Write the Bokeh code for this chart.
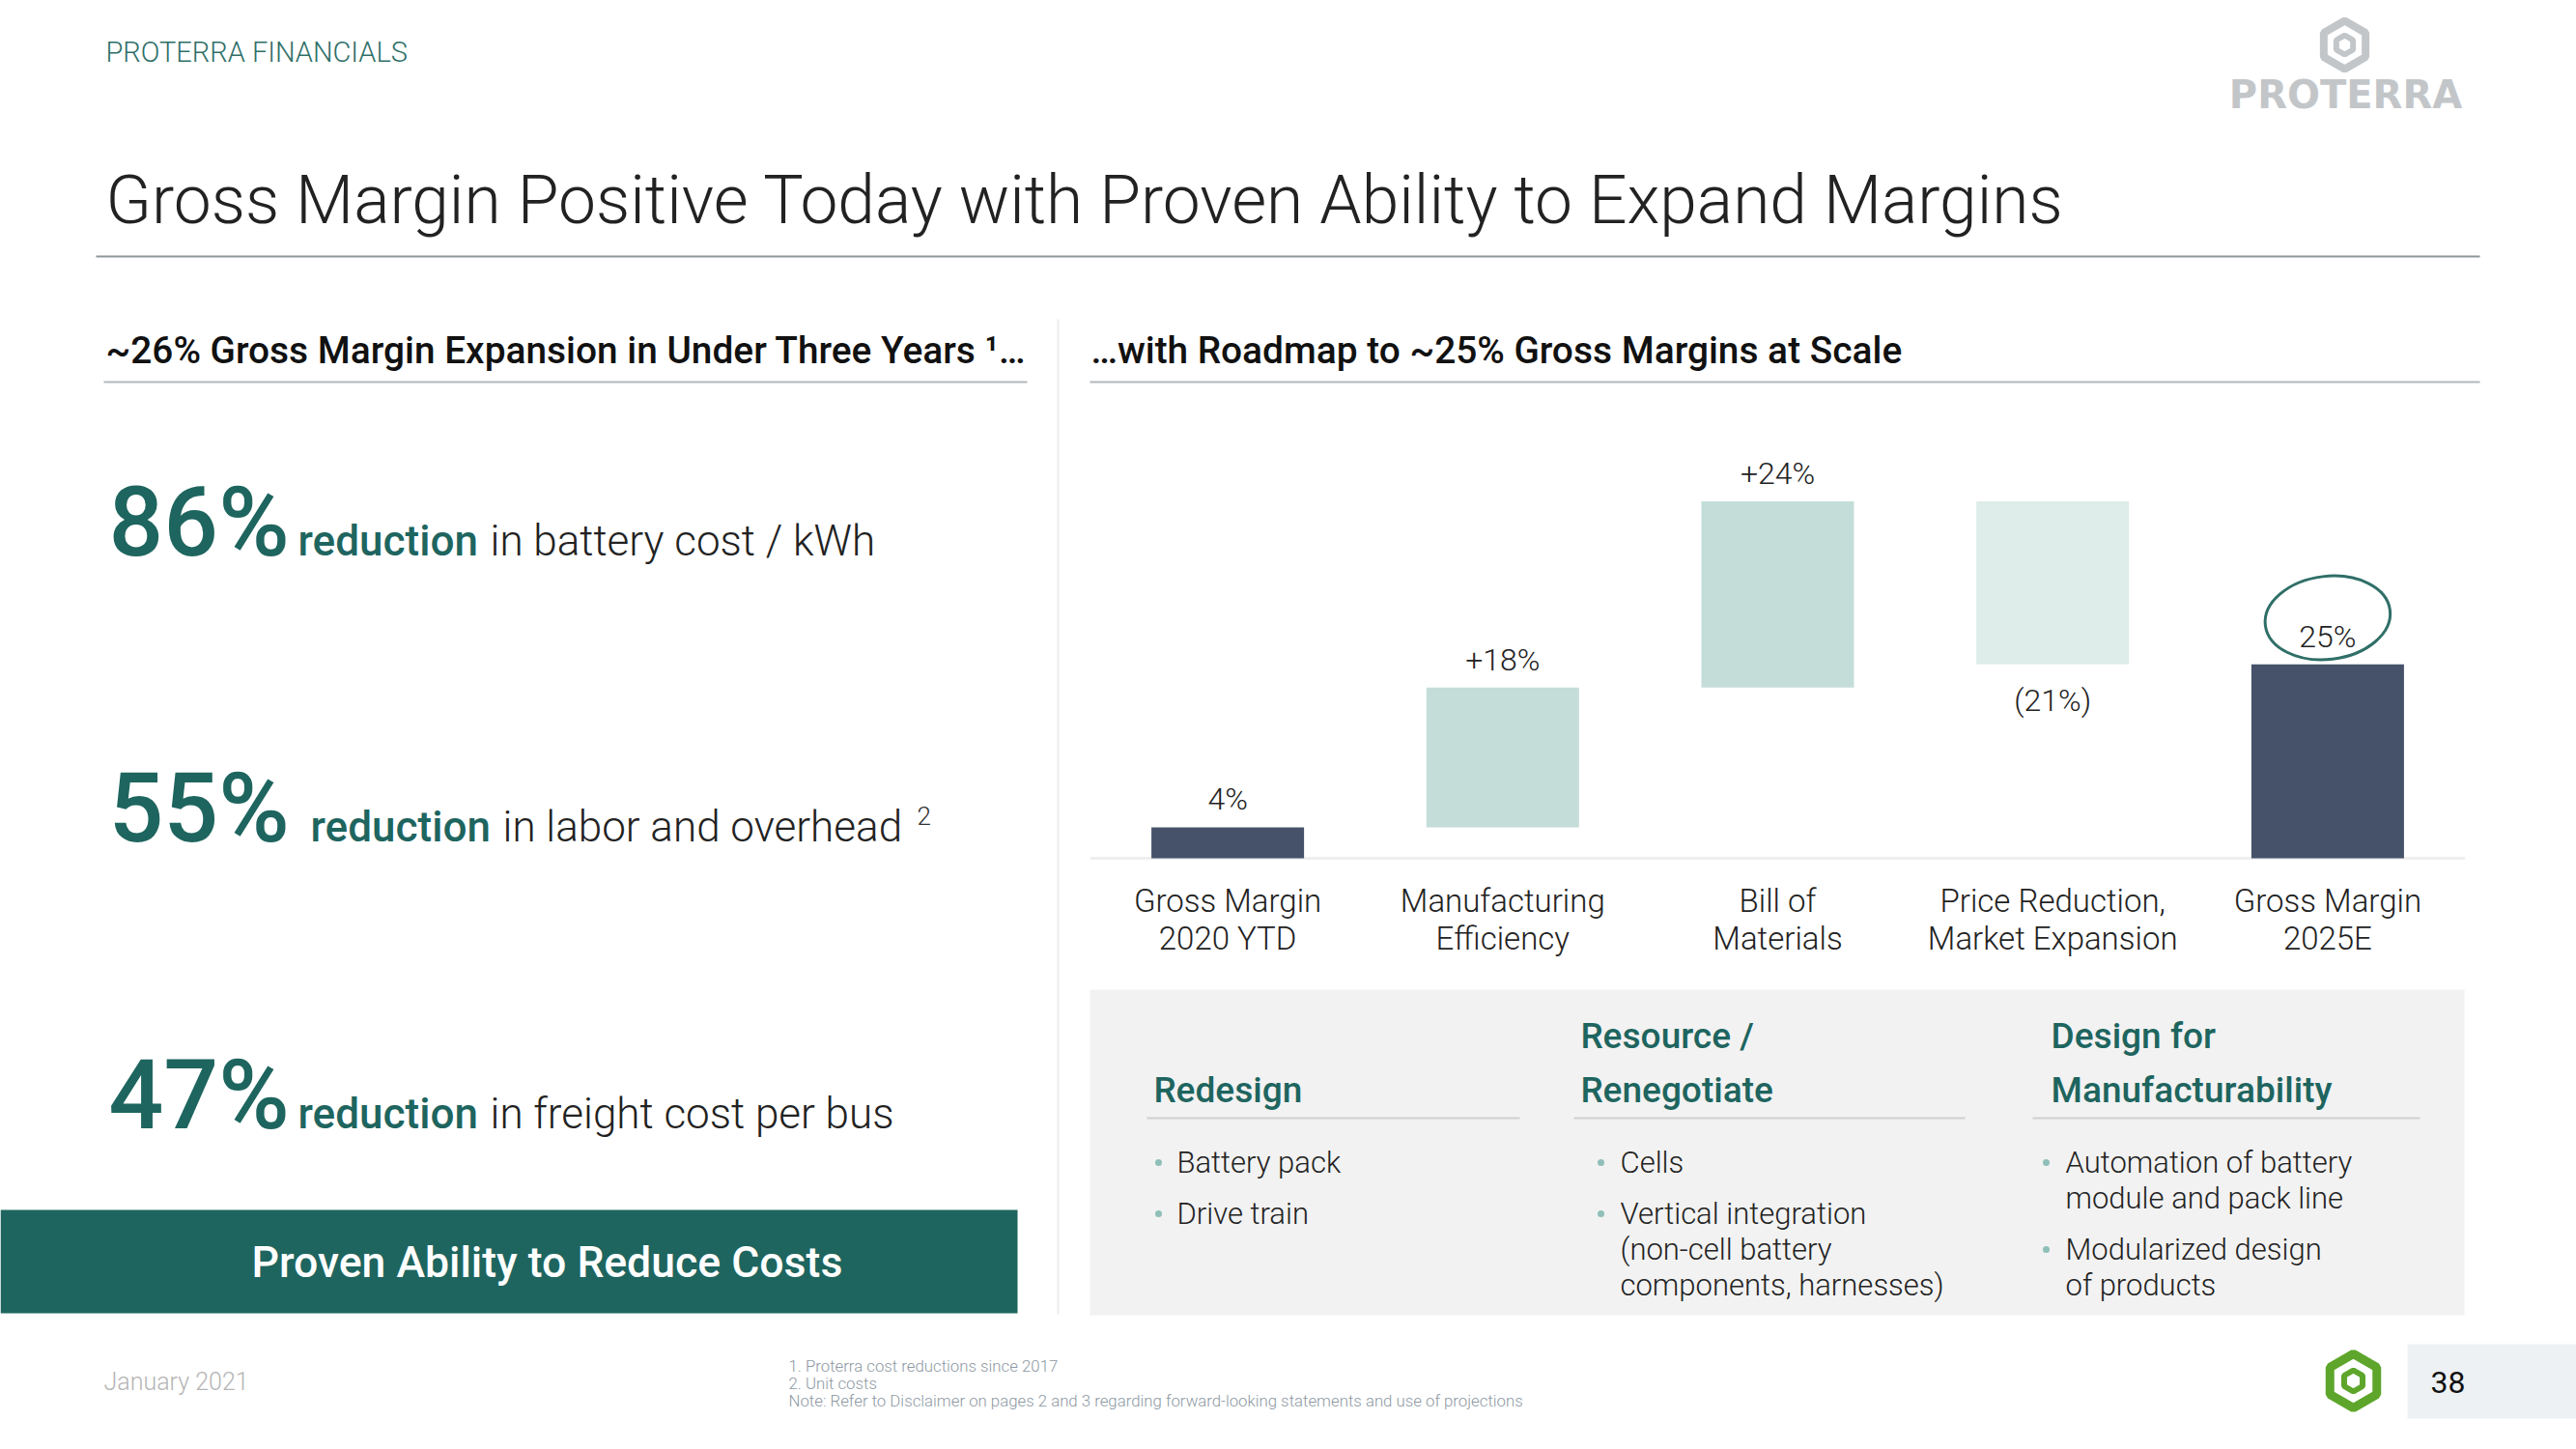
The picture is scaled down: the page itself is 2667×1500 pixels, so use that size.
import math
from bokeh.plotting import figure
from bokeh.models import Range1d
from bokeh.core.properties import value
from bokeh.embed import file_html
from bokeh.resources import INLINE

# ---------------- data ----------------
steps = ["Gross Margin\n2020 YTD", "Manufacturing\nEfficiency", "Bill of\nMaterials",
         "Price Reduction,\nMarket Expansion", "Gross Margin\n2025E"]
changes = [4, 18, 24, -21, 25]
kinds = ["total", "up", "up", "down", "total"]
value_labels = ["4%", "+18%", "+24%", "(21%)", "25%"]

stat_values = ["86%", "55%", "47%"]
stat_keyword = ["reduction", "reduction", "reduction"]
stat_rest = ["in battery cost / kWh", "in labor and overhead", "in freight cost per bus"]
stat_notes = ["", "2", ""]

levers = ["Redesign", "Resource /\nRenegotiate", "Design for\nManufacturability"]
lever_items = [["Battery pack", "Drive train"],
               ["Cells", "Vertical integration\n(non-cell battery\ncomponents, harnesses)"],
               ["Automation of battery\nmodule and pack line", "Modularized design\nof products"]]

footnotes = ["1.  Proterra cost reductions since 2017", "2.  Unit costs",
             "Note: Refer to Disclaimer on pages 2 and 3 regarding forward-looking statements and use of projections"]

# ---------------- styling ----------------
W, H = 2667, 1500
TEAL = "#1e655f"
NAVY = "#45526a"
UP = "#c4ddd8"
DOWN = "#deecea"
LIGHT = "Roboto Light, Roboto"
MED = "Roboto Medium, Roboto"
REG = "Roboto"

p = figure(width=W, height=H, x_range=Range1d(0, W), y_range=Range1d(H, 0),
           output_backend="svg", toolbar_location=None, min_border=0,
           outline_line_color=None, x_axis_location=None, y_axis_location=None)
p.grid.visible = False
p.background_fill_color = "white"
p.border_fill_color = "white"


def txt(x, y, s, size, color, font=LIGHT, align="left", baseline="middle", **kw):
    p.text(x=[x], y=[y], text=[s], text_font=value(font), text_font_size=f"{size}px",
           text_color=color, text_align=align, text_baseline=baseline, **kw)


def hline(x0, x1, y, color, w):
    p.segment(x0=[x0], x1=[x1], y0=[y], y1=[y], line_color=color, line_width=w)


# ---------------- header ----------------
txt(109, 53, "PROTERRA FINANCIALS", 29, "#2f6f68", LIGHT)
txt(109, 207, "Gross Margin Positive Today with Proven Ability to Expand Margins", 69.5, "#222222", LIGHT)
hline(99, 2567, 265, "#8d9699", 2)

# logo top right
p.scatter(x=[2427], y=[46], marker="hex", size=50, angle=math.pi / 6, fill_color=None,
          line_color="#c3c6c9", line_width=8)
p.scatter(x=[2427], y=[46], marker="hex", size=20, angle=math.pi / 6, fill_color=None,
          line_color="#c3c6c9", line_width=6)
txt(2428, 97, "PROTERRA", 40, "#c3c6c9", "DejaVu Sans", align="center", text_font_style="bold")

# section headers
txt(109, 362, "~26% Gross Margin Expansion in Under Three Years \u00b9\u2026", 38.8, "#111111", MED)
hline(107, 1063, 395, "#b3b8bb", 2)
txt(1129, 362, "\u2026with Roadmap to ~25% Gross Margins at Scale", 38.8, "#111111", MED)
hline(1128, 2567, 395, "#b3b8bb", 2)

# vertical divider
p.segment(x0=[1095], x1=[1095], y0=[330], y1=[1360], line_color="#ececec", line_width=2)

# ---------------- left stats ----------------
stat_base = [575, 871, 1168]
kw_x = [308, 321, 308]
rest_x = [507, 520, 507]
for v, k, r, n, yb, kx, rx in zip(stat_values, stat_keyword, stat_rest, stat_notes, stat_base, kw_x, rest_x):
    txt(112, yb - 0.355 * 100, v, 100, TEAL, MED)
    txt(kx, yb - 0.355 * 44, k, 44, TEAL, MED)
    txt(rx, yb - 0.355 * 44, r, 44, "#222222", LIGHT)
    if n:
        txt(949, yb - 27, n, 26, "#333333", LIGHT)

p.quad(left=[0], right=[1053], top=[1252], bottom=[1359], fill_color=TEAL, line_color=None)
txt(566, 1306, "Proven Ability to Reduce Costs", 44.5, "white", MED, align="center")

# ---------------- waterfall chart ----------------
CH_X0, CH_DX, CH_BASE, CH_PPU = 1270.6, 284.7, 888.0, 8.03
p.extra_x_ranges = {"cx": Range1d(-CH_X0 / CH_DX, (W - CH_X0) / CH_DX)}
p.extra_y_ranges = {"cy": Range1d(-(H - CH_BASE) / CH_PPU, CH_BASE / CH_PPU)}

idx = list(range(len(steps)))
bottoms, tops, colors = [], [], []
cum = 0
for c, k in zip(changes, kinds):
    if k == "total":
        bottoms.append(0); tops.append(c); cum = c; colors.append(NAVY)
    elif c >= 0:
        bottoms.append(cum); tops.append(cum + c); cum += c; colors.append(UP)
    else:
        bottoms.append(cum + c); tops.append(cum); cum += c; colors.append(DOWN)

p.segment(x0=[-0.5], x1=[len(steps) - 0.5], y0=[0], y1=[0], line_color="#efefef", line_width=3,
          x_range_name="cx", y_range_name="cy")
p.vbar(x=idx, bottom=bottoms, top=tops, width=0.555, fill_color=colors, line_color=None,
       x_range_name="cx", y_range_name="cy")

for i, (lab, c, k) in enumerate(zip(value_labels, changes, kinds)):
    if k == "down":
        p.text(x=[i], y=[bottoms[i]], text=[lab], text_font=value(LIGHT), text_font_size="32px",
               text_color="#222222", text_align="center", text_baseline="top", y_offset=18,
               x_range_name="cx", y_range_name="cy")
    else:
        p.text(x=[i], y=[tops[i]], text=[lab], text_font=value(LIGHT), text_font_size="32px",
               text_color="#222222", text_align="center", text_baseline="bottom", y_offset=-10,
               x_range_name="cx", y_range_name="cy")
    for j, line in enumerate(steps[i].split("\n")):
        p.text(x=[i], y=[0], text=[line], text_font=value(LIGHT), text_font_size="33px",
               text_color="#222222", text_align="center", text_baseline="middle",
               y_offset=44 + 39 * j, x_range_name="cx", y_range_name="cy")

# hand-drawn oval around final margin
p.ellipse(x=[idx[-1]], y=[tops[-1] + 6], width=130, height=86, width_units="screen",
          height_units="screen", angle=0.12, fill_color=None, line_color="#2f6f68", line_width=3,
          x_range_name="cx", y_range_name="cy")

# ---------------- levers panel ----------------
p.quad(left=[1128], right=[2551], top=[1024], bottom=[1361], fill_color="#f2f2f2", line_color=None)
col_x = [1194, 1636, 2123]
dot_x = [1199, 1657, 2118]
item_x = [1218, 1677, 2138]
rule = [(1187, 1573), (1629, 2034), (2104, 2505)]
for lv, items, cx, dx, ix, (r0, r1) in zip(levers, lever_items, col_x, dot_x, item_x, rule):
    lines = lv.split("\n")
    for j, line in enumerate(lines):
        txt(cx, 1128 - 56 * (len(lines) - 1 - j), line, 37, TEAL, MED)
    hline(r0, r1, 1157, "#cfcfcf", 2)
    y = 1203
    for it in items:
        ls = it.split("\n")
        p.scatter(x=[dx], y=[y], size=7, marker="circle", fill_color="#8fbfb8", line_color=None)
        for j, line in enumerate(ls):
            txt(ix, y + 37 * j, line, 31, "#222222", LIGHT)
        y += 37 * (len(ls) - 1) + 53

# ---------------- footer ----------------
txt(107, 1430, "January 2021", 25, "#b5b5b5", LIGHT)
for j, f in enumerate(footnotes):
    txt(816, 1413 + 18 * j, f, 16.8, "#8e99a3", LIGHT)

p.scatter(x=[2436], y=[1429], marker="hex", size=56, angle=math.pi / 6, fill_color=None,
          line_color="#5ea62b", line_width=9)
p.scatter(x=[2436], y=[1429], marker="hex", size=22, angle=math.pi / 6, fill_color=None,
          line_color="#5ea62b", line_width=6)
p.quad(left=[2492], right=[W], top=[1391], bottom=[1468], fill_color="#eef1f3", line_color=None)
txt(2516, 1430, "38", 32, "#111111", REG)

open("out.html", "w").write(file_html(p, INLINE))
